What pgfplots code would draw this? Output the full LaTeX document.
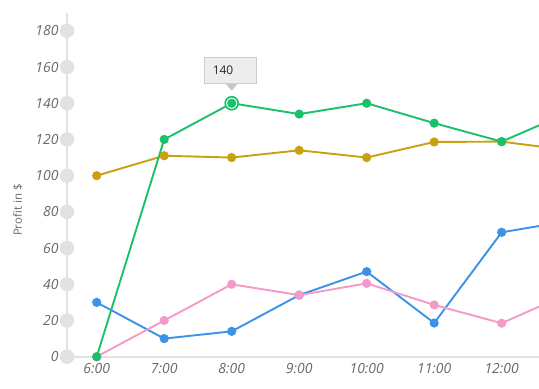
\documentclass[border=0pt]{standalone}
\usepackage{pgfplots}
\pgfplotsset{compat=1.18}
\usepackage{fontspec}
\setmainfont{Open Sans}
\definecolor{cgreen}{RGB}{27,192,106}
\definecolor{cgold}{RGB}{201,161,14}
\definecolor{cblue}{RGB}{58,147,230}
\definecolor{cpink}{RGB}{244,154,200}
\definecolor{caxis}{RGB}{226,226,226}
\definecolor{ctext}{RGB}{105,105,105}
\begin{document}
\begin{tikzpicture}[x=1bp,y=1bp]
\useasboundingbox (-67bp,-32.3bp) rectangle (472bp,356.7bp);
\begin{axis}[
  at={(0,0)}, anchor=south west,
  scale only axis, width=472bp, height=344bp,
  xmin=5.56, xmax=12.553, ymin=0, ymax=190,
  axis x line*=bottom, axis y line*=left,
  axis line style={caxis, line width=2bp, -},
  xtick={6,7,8,9,10,11,12},
  xticklabels={6:00,7:00,8:00,9:00,10:00,11:00,12:00},
  ytick={0,20,...,180},
  major tick length=0pt,
  /pgf/number format/assume math mode=true,
  tick label style={font=\fontsize{14}{16}\selectfont\itshape, text=ctext},
  yticklabel style={xshift=-5bp},
  xticklabel style={yshift=-3bp},
  ylabel={Profit in \$},
  ylabel style={at={(axis description cs:-0.104,0.426)}, anchor=center, rotate=0, font=\fontsize{11.5}{13}\selectfont, text=ctext},
  every axis plot/.append style={line width=1.9bp, mark=*, mark size=3.6bp, mark options={solid, line width=0.5bp}},
]
% tick circles
\addplot[only marks, mark=*, mark size=6.3bp, color=caxis, mark options={fill=caxis, draw=caxis}] coordinates {
 (5.56,0) (5.56,20) (5.56,40) (5.56,60) (5.56,80) (5.56,100) (5.56,120) (5.56,140) (5.56,160) (5.56,180)};
\addplot[cgold, mark options={fill=cgold}] coordinates {
 (6,100) (7,111) (8,110) (9,114) (10,110) (11,118.6) (12,118.8) (13,114)};
\addplot[cblue, mark options={fill=cblue}] coordinates {
 (6,30) (7,10) (8,14) (9,34) (10,47) (11,18.6) (12,68.7) (13,75)};
\addplot[cpink, mark options={fill=cpink}] coordinates {
 (6,0) (7,20) (8,40) (9,34) (10,40.5) (11,28.6) (12,18.5) (13,35)};
\addplot[cgreen, mark options={fill=cgreen}] coordinates {
 (6,0) (7,120) (8,140) (9,134) (10,140) (11,129) (12,118.8) (13,135)};
% highlighted point
\addplot[only marks, mark=*, mark size=6.5bp, mark options={draw=cgreen, fill=white, line width=1.7bp}] coordinates {(8,140)};
\addplot[only marks, mark=*, mark size=3.6bp, mark options={draw=cgreen, fill=cgreen}] coordinates {(8,140)};
% tooltip
\fill[black!22] ([xshift=-6bp,yshift=19.5bp]axis cs:8,140) -- ([xshift=6bp,yshift=19.5bp]axis cs:8,140) -- ([yshift=12.5bp]axis cs:8,140) -- cycle;
\node[draw=black!20, fill=black!7, minimum width=52bp, minimum height=26bp, inner sep=0pt, anchor=south, line width=0.8bp] (tt) at ([xshift=-1bp,yshift=19.5bp]axis cs:8,140) {};
\node[anchor=west, font=\fontsize{12}{14}\selectfont, text=black!85] at ([xshift=5bp]tt.west) {140};
\end{axis}
\end{tikzpicture}
\end{document}
